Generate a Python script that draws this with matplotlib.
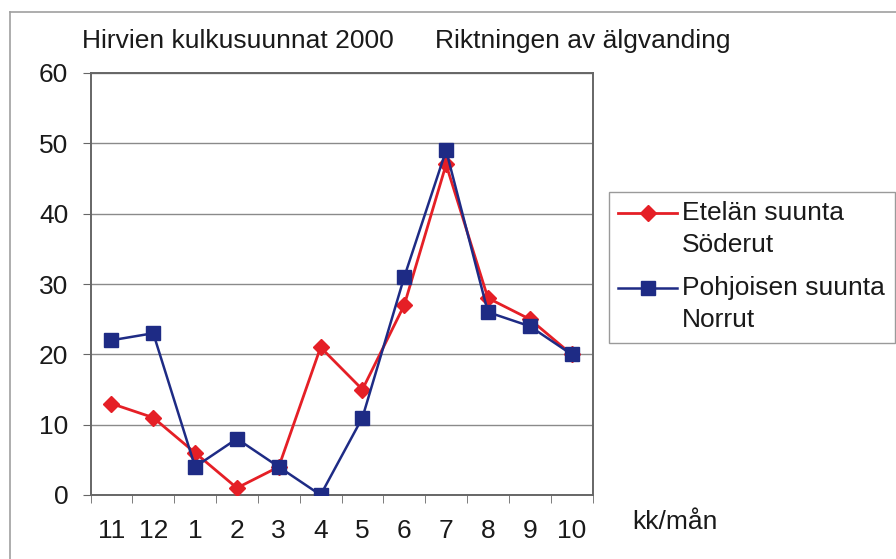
import matplotlib
matplotlib.use('Agg')
import matplotlib.pyplot as plt
from matplotlib.lines import Line2D
from matplotlib.patches import Rectangle

plt.rcParams['font.family'] = ['Liberation Sans', 'DejaVu Sans']

# data
months = ['11', '12', '1', '2', '3', '4', '5', '6', '7', '8', '9', '10']
etela = [13, 11, 6, 1, 4, 21, 15, 27, 47, 28, 25, 20]
pohjoinen = [22, 23, 4, 8, 4, 0, 11, 31, 49, 26, 24, 20]

W, H = 896, 559
FS = 19
RED = '#e51f26'
BLUE = '#1e2b85'
TXT = '#1a1a1a'


def fx(x):
    return x / W


def fy(y):
    return 1 - y / H


fig = plt.figure(figsize=(W / 100, H / 100), dpi=100)
ax = fig.add_axes([fx(90.5), fy(495), fx(592.5) - fx(90.5), fy(73) - fy(495)])

pos = list(range(len(months)))
ax.plot(pos, etela, color=RED, lw=2, marker='D', ms=8.5, mfc=RED, mec=RED, zorder=3)
ax.plot(pos, pohjoinen, color=BLUE, lw=1.8, marker='s', ms=10, mfc=BLUE, mec=BLUE, zorder=4)

ax.set_xlim(-0.5, len(months) - 0.5)
ax.set_ylim(0, 60)
ax.set_yticks(range(0, 61, 10))
ax.set_xticks(pos)
ax.set_xticklabels(months)
ax.set_xticks([p - 0.5 for p in pos] + [len(months) - 0.5], minor=True)
ax.tick_params(axis='x', which='major', length=0, pad=17.5, labelsize=FS, labelcolor=TXT)
ax.tick_params(axis='x', which='minor', length=6, color='#666666', direction='out')
ax.tick_params(axis='y', length=6, color='#666666', pad=10, labelsize=FS, labelcolor=TXT)
ax.yaxis.grid(True, color='#8a8a8a', lw=1)
ax.set_axisbelow(True)
for s in ax.spines.values():
    s.set_color('#666666')
    s.set_linewidth(1.4)

# titles
fig.text(fx(82), fy(48), 'Hirvien kulkusuunnat 2000', fontsize=FS, color=TXT, va='baseline')
fig.text(fx(435), fy(48), 'Riktningen av älgvanding', fontsize=FS, color=TXT, va='baseline')
fig.text(fx(632), fy(522), 'kk/mån', fontsize=FS, color=TXT, va='center')

# outer frame
fig.add_artist(Line2D([fx(10), fx(10)], [fy(12), 0], color='#a0a0a0', lw=1.2))
fig.add_artist(Line2D([fx(10), 1], [fy(12), fy(12)], color='#a0a0a0', lw=1.2))

# legend box
fig.add_artist(Rectangle((fx(609), fy(343)), fx(895) - fx(609), fy(192) - fy(343),
                         facecolor='white', edgecolor='#9a9a9a', lw=1))
entries = [(RED, 'D', 8.5, 2, 213, 'Etelän suunta', 'Söderut'),
           (BLUE, 's', 10, 1.8, 288, 'Pohjoisen suunta', 'Norrut')]
for col, mk, ms, lw, y, l1, l2 in entries:
    fig.add_artist(Line2D([fx(618), fx(677)], [fy(y), fy(y)], color=col, lw=lw))
    fig.add_artist(Line2D([fx(647.5)], [fy(y)], color=col, marker=mk, ms=ms, mfc=col, mec=col))
    fig.text(fx(682), fy(y), l1, fontsize=FS, color=TXT, va='center')
    fig.text(fx(682), fy(y + 32), l2, fontsize=FS, color=TXT, va='center')

fig.savefig('out.png', dpi=100, facecolor='white')
